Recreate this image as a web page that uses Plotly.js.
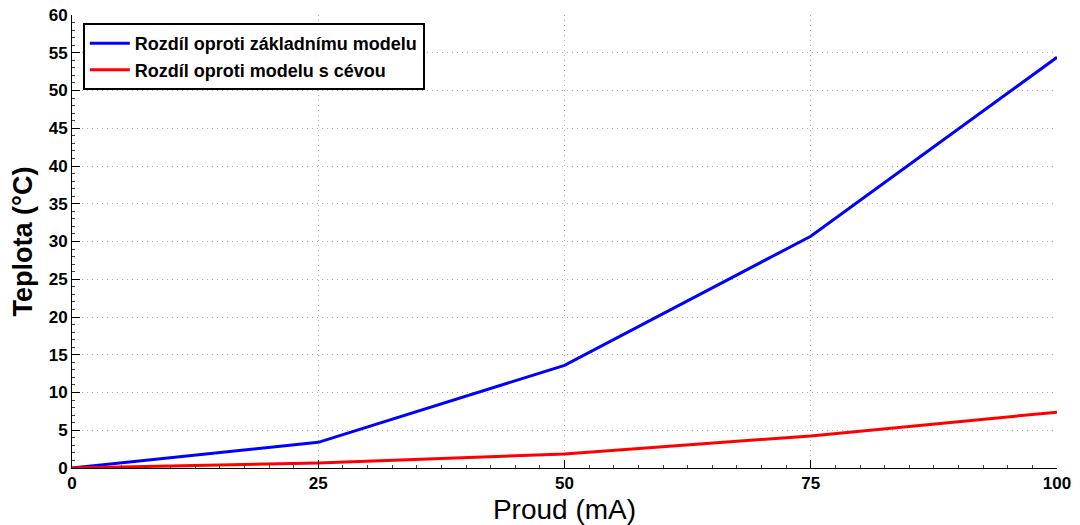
<!DOCTYPE html>
<html>
<head>
<meta charset="utf-8">
<script src="https://cdn.plot.ly/plotly-3.0.1.min.js"></script>
<style>html,body{margin:0;padding:0;background:#fff;}#chart{width:1080px;height:525px;}</style>
</head>
<body>
<div id="chart"></div>
<script>
const current = [0, 25, 50, 75, 100];
const diffBasic = [0, 3.4, 13.6, 30.7, 54.4];
const diffVessel = [0, 0.65, 1.85, 4.25, 7.4];
const seriesNames = ["Rozdíl oproti základnímu modelu", "Rozdíl oproti modelu s cévou"];
const xTicks = [0, 25, 50, 75, 100];

const font = "Liberation Sans, Arial, Helvetica, sans-serif";

const traces = [
  {x: current, y: diffBasic, mode: 'lines', name: seriesNames[0], line: {color: '#0000ff', width: 3}},
  {x: current, y: diffVessel, mode: 'lines', name: seriesNames[1], line: {color: '#ff0000', width: 3}}
];

const layout = {
  width: 1080, height: 525,
  margin: {l: 72, r: 23, t: 15, b: 57},
  paper_bgcolor: '#fff', plot_bgcolor: '#fff',
  font: {family: font, color: '#000'},
  showlegend: true,
  legend: {
    x: 0.011, y: 0.982, xanchor: 'left', yanchor: 'top',
    bgcolor: '#fff', bordercolor: '#000', borderwidth: 2,
    font: {family: font, size: 18, weight: 'bold', color: '#000'},
    tracegroupgap: 0, itemwidth: 40
  },
  xaxis: {
    range: [0, 100], tickvals: xTicks, ticktext: xTicks.map(String),
    showline: true, linecolor: '#000', linewidth: 1, mirror: false,
    ticks: 'inside', ticklen: 8, tickcolor: '#000',
    showgrid: true, gridcolor: '#aaa', griddash: '1px,4px', gridwidth: 1,
    zeroline: false,
    tickfont: {family: font, size: 17, weight: 'bold', color: '#000'},
    minor: {ticks: 'inside', ticklen: 3, tickcolor: '#444', dtick: 2.5, showgrid: false},
    title: {text: 'Proud (mA)', font: {family: font, size: 28, color: '#000'}, standoff: 6}
  },
  yaxis: {
    range: [0, 60], dtick: 5, tick0: 0,
    showline: true, linecolor: '#000', linewidth: 1, mirror: false,
    ticks: 'inside', ticklen: 8, tickcolor: '#000',
    showgrid: true, gridcolor: '#aaa', griddash: '1px,4px', gridwidth: 1,
    zeroline: false,
    tickfont: {family: font, size: 17, weight: 'bold', color: '#000'},
    minor: {ticks: 'inside', ticklen: 3, tickcolor: '#444', dtick: 1, showgrid: false},
    title: {text: 'Teplota (°C)', font: {family: font, size: 27, weight: 'bold', color: '#000'}, standoff: 8}
  }
};

Plotly.newPlot('chart', traces, layout, {displayModeBar: false, staticPlot: true});
</script>
</body>
</html>
